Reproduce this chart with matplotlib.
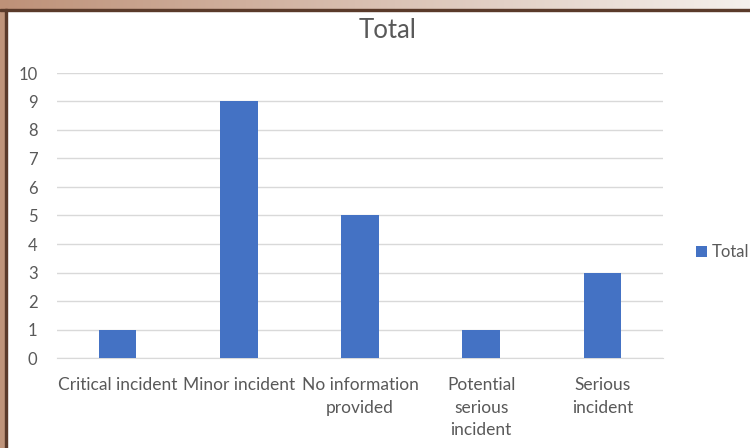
import matplotlib

matplotlib.use("Agg")
import matplotlib.pyplot as plt
import numpy as np
from matplotlib.patches import Rectangle

categories = [
    "Critical incident",
    "Minor incident",
    "No information\nprovided",
    "Potential\nserious\nincident",
    "Serious\nincident",
]
totals = [1, 9, 5, 1, 3]

BAR_BLUE = "#4472C4"
TEXT_GREY = "#595959"
GRID_GREY = "#D9D9D9"

plt.rcParams["font.family"] = ["Lato", "DejaVu Sans"]

fig = plt.figure(figsize=(7.5, 4.48), dpi=100)
W, H = 750, 448

# Screenshot frame: tan gradient band on top, tan strip on the left,
# each with a dark brown edge line.
grad = np.linspace(0, 1, 256)[None, :]
c0 = np.array([190, 145, 120]) / 255
c1 = np.array([245, 240, 236]) / 255
band = c0[None, None, :] * (1 - grad[..., None]) + c1[None, None, :] * grad[..., None]
bax = fig.add_axes([0, 1 - 9 / H, 1, 9 / H])
bax.imshow(band, aspect="auto", extent=[0, 1, 0, 1])
bax.axis("off")
fig.patches.append(Rectangle((0, 0), 5 / W, 1 - 9 / H, transform=fig.transFigure,
                             color=(0.75, 0.58, 0.48), zorder=0))
fig.patches.append(Rectangle((0, 1 - 11 / H), 1, 2 / H, transform=fig.transFigure,
                             color="#5a3a2a", zorder=2))
fig.patches.append(Rectangle((5 / W, 0), 2 / W, 1 - 9 / H, transform=fig.transFigure,
                             color="#5a3a2a", zorder=2))

# Plot area in pixels: x 57..663, y 73 (10) .. 358 (0)
ax = fig.add_axes([57 / W, 1 - 358 / H, (663 - 57) / W, (358 - 73) / H])
x = np.arange(len(categories))
ax.bar(x, totals, width=0.31, color=BAR_BLUE, label="Total", zorder=3)
ax.set_xlim(-0.5, len(categories) - 0.5)
ax.set_ylim(0, 10)
ax.set_yticks(range(0, 11))
ax.set_xticks(x)
ax.set_xticklabels(categories, fontsize=12.5, color=TEXT_GREY, linespacing=1.5)
ax.tick_params(axis="y", labelsize=12, labelcolor=TEXT_GREY, length=0, pad=14)
ax.tick_params(axis="x", length=0, pad=14)
ax.grid(axis="y", color=GRID_GREY, linewidth=1, zorder=0)
for side in ["top", "right", "left"]:
    ax.spines[side].set_visible(False)
ax.spines["bottom"].set_color(GRID_GREY)

fig.text(388 / W, 1 - 30 / H, "Total", fontsize=18.5, color=TEXT_GREY,
         ha="center", va="center")

fig.legend(handles=ax.get_legend_handles_labels()[0], labels=["Total"],
           loc="center left", bbox_to_anchor=(696 / W, 1 - 252 / H),
           frameon=False, fontsize=12, labelcolor=TEXT_GREY,
           handlelength=0.65, handleheight=0.65, handletextpad=0.3,
           borderpad=0, borderaxespad=0)

fig.savefig("out.png", dpi=100)
